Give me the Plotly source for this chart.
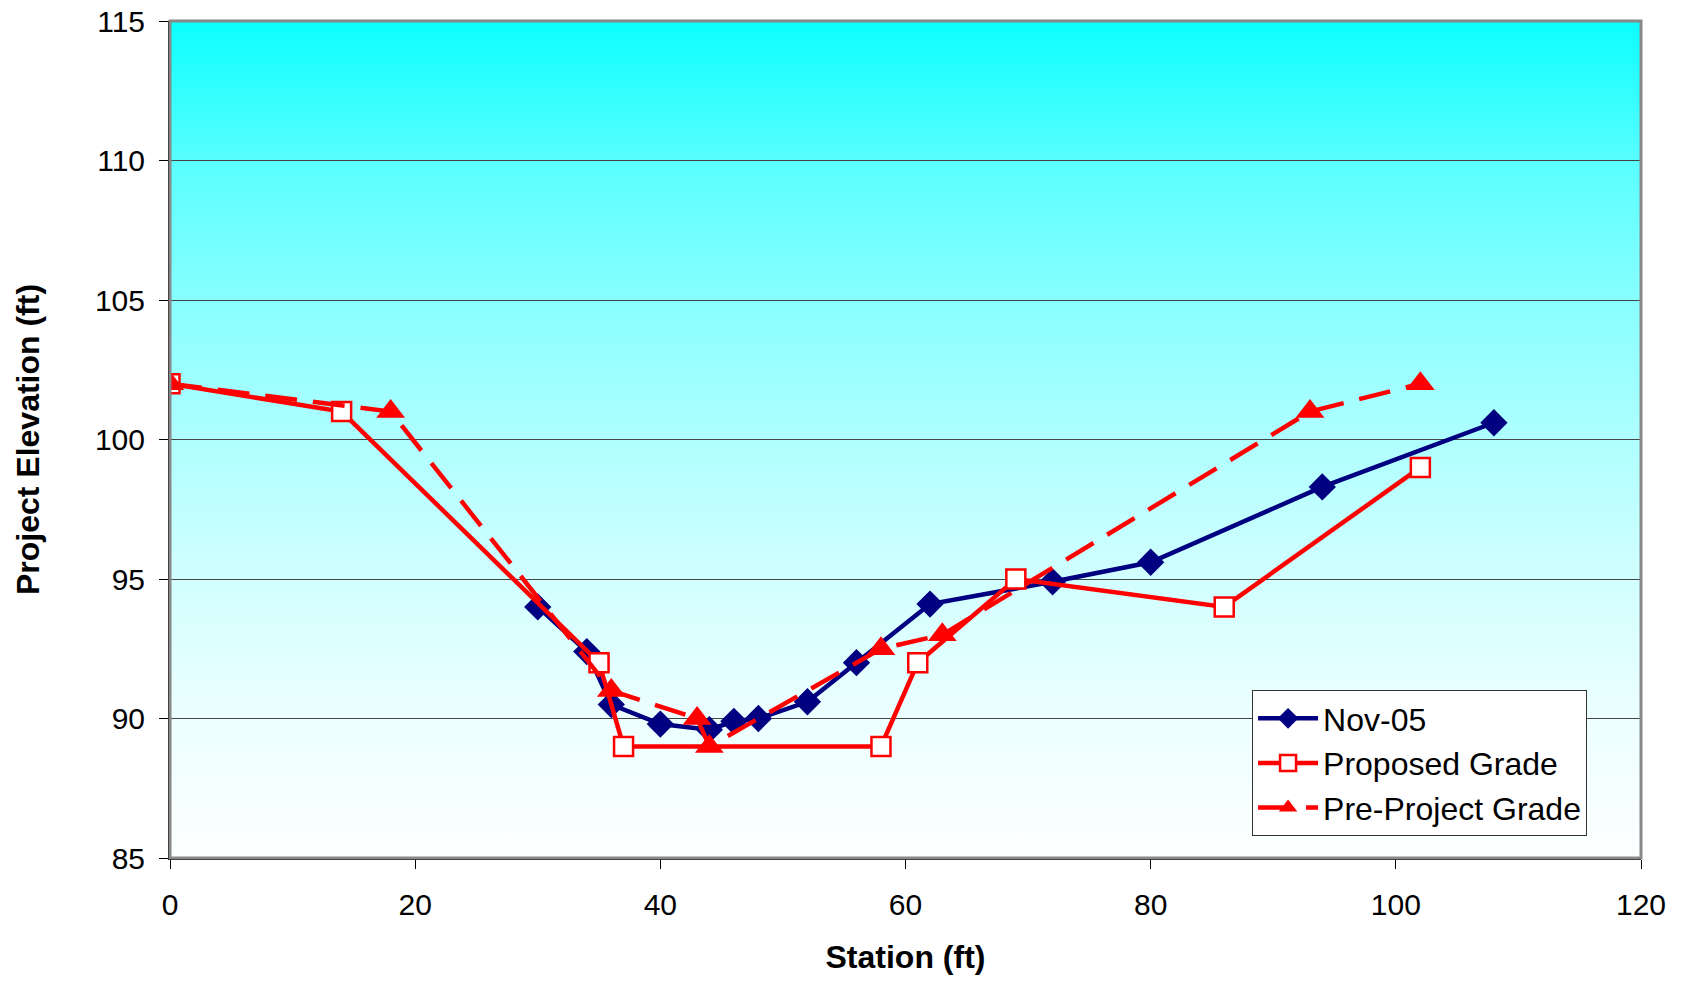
import base64
import plotly.graph_objects as go

# ---- data ----
nov05_x = [30, 34, 36, 40, 44, 46, 48, 52, 56, 62, 72, 80, 94, 108]
nov05_y = [94.0, 92.4, 90.5, 89.8, 89.6, 89.9, 90.0, 90.6, 92.0, 94.1, 94.9, 95.6, 98.3, 100.6]

proposed_x = [0, 14, 35, 37, 58, 61, 69, 86, 102]
proposed_y = [102, 101, 92, 89, 89, 92, 95, 94, 99]

preproj_x = [0, 18, 36, 43, 44, 58, 63, 93, 102]
preproj_y = [102, 101, 91, 90, 89, 92.5, 93, 101, 102]

x_ticks = [0, 20, 40, 60, 80, 100, 120]
y_ticks = [85, 90, 95, 100, 105, 110, 115]

FONT = "Liberation Sans, Arial, sans-serif"

# ---- gradient background as an SVG image ----
stops = [(0.0, 12), (0.17, 90), (0.33, 135), (0.5, 175), (0.67, 210), (0.83, 236), (1.0, 253)]
stop_xml = "".join(
    f'<stop offset="{o}" stop-color="rgb({r},255,255)"/>' for o, r in stops
)
svg = (
    '<svg xmlns="http://www.w3.org/2000/svg" width="100" height="100" '
    'preserveAspectRatio="none"><defs><linearGradient id="g" x1="0" y1="0" x2="0" y2="1">'
    + stop_xml
    + '</linearGradient></defs><rect width="100" height="100" fill="url(#g)"/></svg>'
)
svg_uri = "data:image/svg+xml;base64," + base64.b64encode(svg.encode()).decode()

fig = go.Figure()

fig.add_trace(go.Scatter(
    x=nov05_x, y=nov05_y, mode="lines+markers", name="Nov-05",
    line=dict(color="#000080", width=4.5),
    marker=dict(symbol="diamond", size=21, color="#000080"),
))
fig.add_trace(go.Scatter(
    x=proposed_x, y=proposed_y, mode="lines+markers", name="Proposed Grade",
    line=dict(color="#FF0000", width=4.5),
    marker=dict(symbol="square", size=19, color="white",
                line=dict(color="#FF0000", width=2.5)),
))
fig.add_trace(go.Scatter(
    x=preproj_x, y=preproj_y, mode="lines+markers", name="Pre-Project Grade",
    line=dict(color="#FF0000", width=4.5, dash="32px,16px"),
    marker=dict(symbol="triangle-up", size=25, color="#FF0000"),
))

fig.update_layout(
    width=1684, height=981,
    margin=dict(l=170, r=43, t=21, b=123, autoexpand=False),
    paper_bgcolor="white",
    plot_bgcolor="rgba(0,0,0,0)",
    font=dict(family=FONT, color="black", size=30),
    images=[dict(source=svg_uri, xref="paper", yref="paper", x=0, y=1,
                 sizex=1, sizey=1, sizing="stretch", layer="below",
                 xanchor="left", yanchor="top")],
    shapes=[dict(type="rect", xref="paper", yref="paper", x0=0, y0=0, x1=1, y1=1,
                 line=dict(color="#888888", width=3), layer="above")],
    legend=dict(
        x=0.7356, y=0.2007, xanchor="left", yanchor="top",
        bgcolor="white", bordercolor="#333333", borderwidth=1,
        font=dict(family=FONT, size=32, color="black"),
        tracegroupgap=0, itemwidth=60,
    ),
    showlegend=True,
)

fig.update_xaxes(
    range=[0, 120], tickvals=x_ticks, ticktext=[str(v) for v in x_ticks],
    showgrid=False, zeroline=False,
    showline=True, linecolor="black", linewidth=2,
    ticks="outside", ticklen=9, tickcolor="black", tickwidth=1,
    tickfont=dict(family=FONT, size=30), ticklabelstandoff=10,
    title=dict(text="<b>Station (ft)</b>", font=dict(family=FONT, size=32), standoff=26),
    automargin=False,
)
fig.update_yaxes(
    range=[85, 115], tickvals=y_ticks, ticktext=[str(v) for v in y_ticks],
    showgrid=True, gridcolor="#444444", gridwidth=1,
    zeroline=False,
    showline=True, linecolor="black", linewidth=2,
    ticks="outside", ticklen=9, tickcolor="black", tickwidth=1,
    tickfont=dict(family=FONT, size=30), ticklabelstandoff=8,
    title=dict(text="<b>Project Elevation (ft)</b>", font=dict(family=FONT, size=32), standoff=46),
    automargin=False,
)

fig.write_html("out.html")
